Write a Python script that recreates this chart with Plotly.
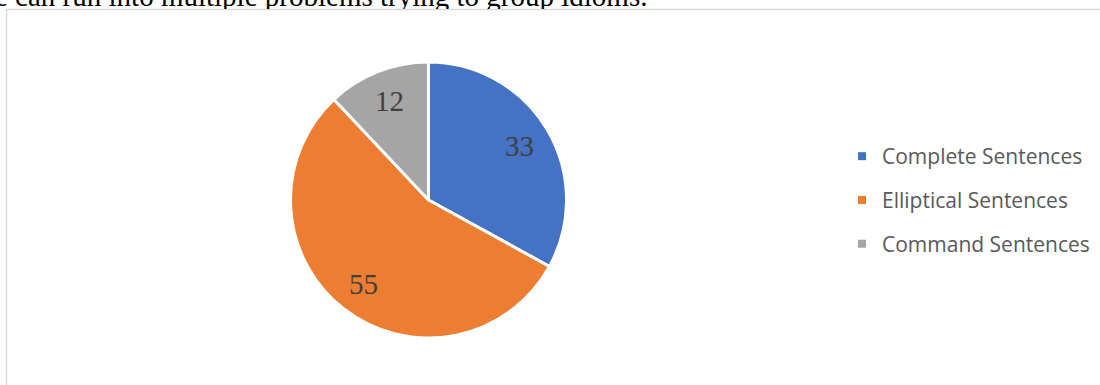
import math
import plotly.graph_objects as go

# Sentence types and their counts
categories = ["Complete Sentences", "Elliptical Sentences", "Command Sentences"]
counts = [33, 55, 12]
colors = ["#4472C4", "#ED7D31", "#A5A5A5"]

# Running text line that sits just above the chart box
body_line = "e can run into multiple problems trying to group idioms."

W, H = 1100, 385

# Pie geometry in pixels (centre and radius)
CX, CY, R = 428.5, 200.0, 138.0
LABEL_FRAC = 0.77

fig = go.Figure()

fig.add_trace(go.Pie(
    labels=categories,
    values=counts,
    sort=False,
    direction="clockwise",
    rotation=0,
    marker=dict(colors=colors, line=dict(color="white", width=3)),
    textinfo="none",
    hoverinfo="skip",
    showlegend=False,
    domain=dict(x=[(CX - R) / W, (CX + R) / W],
                y=[1 - (CY + R) / H, 1 - (CY - R) / H]),
))

# Legend entries (square swatches), one group each so they can be spaced out
for name, col in zip(categories, colors):
    fig.add_trace(go.Scatter(
        x=[None], y=[None], mode="markers", name=name, legendgroup=name,
        marker=dict(symbol="square", size=8, color=col, line=dict(width=0)),
        hoverinfo="skip",
    ))

# Text line above the chart, clipped by the strip it lives in
fig.add_trace(go.Scatter(
    x=[-5], y=[-1.3], mode="text", text=[body_line],
    textposition="middle right",
    textfont=dict(family="Liberation Serif, Times New Roman, serif", size=29, color="#000000"),
    cliponaxis=True, showlegend=False, hoverinfo="skip",
))

# Value labels placed inside each slice, at the slice's mid angle
total = sum(counts)
cum = 0
for v in counts:
    theta = math.radians((cum + v / 2) / total * 360)
    cum += v
    px = CX + LABEL_FRAC * R * math.sin(theta)
    py = CY - LABEL_FRAC * R * math.cos(theta)
    fig.add_annotation(
        x=px / W, y=1 - py / H, xref="paper", yref="paper",
        text=str(v), showarrow=False, xanchor="center", yanchor="middle",
        font=dict(family="Liberation Serif, Times New Roman, serif", size=29, color="#404040"),
    )

# Chart box: white area with a light grey outline
fig.add_shape(
    type="rect", xref="paper", yref="paper",
    x0=6.5 / W, x1=1.05, y0=-0.05, y1=1 - 9.5 / H,
    line=dict(color="#D9D9D9", width=1.5), fillcolor="white", layer="below",
)

fig.update_layout(
    width=W, height=H,
    margin=dict(l=0, r=0, t=0, b=0),
    paper_bgcolor="white", plot_bgcolor="rgba(0,0,0,0)",
    hovermode=False,
    xaxis=dict(visible=False, range=[0, W], domain=[0, 1], fixedrange=True),
    yaxis=dict(visible=False, range=[9, 0], domain=[1 - 9 / H, 1], fixedrange=True),
    legend=dict(
        x=842 / W, y=1 - 136 / H, xanchor="left", yanchor="top",
        font=dict(family="Open Sans, sans-serif", size=21, color="#595959"),
        tracegroupgap=13.5, bgcolor="rgba(0,0,0,0)", borderwidth=0,
    ),
)

fig.write_html("out.html")
